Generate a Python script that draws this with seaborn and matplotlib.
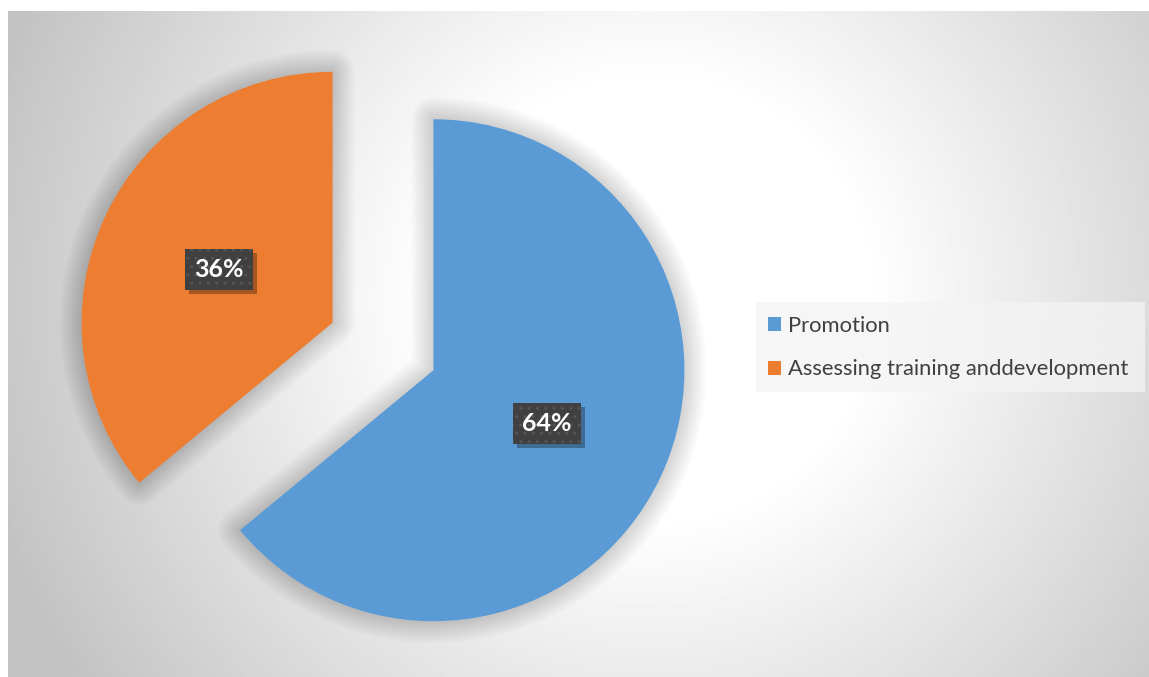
import numpy as np
import matplotlib
matplotlib.use("Agg")
import matplotlib.pyplot as plt
import matplotlib.patches as mpatches
import seaborn as sns

# Data
categories = ["Promotion", "Assessing training anddevelopment"]
shares = [64, 36]
colors = ["#5B9BD5", "#ED7D31"]

sns.set_theme(style="white")
plt.rcParams["font.family"] = ["Lato", "DejaVu Sans"]

W, H = 1149, 677
fig = plt.figure(figsize=(W / 100, H / 100), dpi=100)
fig.patch.set_facecolor("white")

# Chart area with a soft radial gradient
bg = fig.add_axes([8 / W, 0, 1 - 8 / W, (H - 11) / H])
bg.set_axis_off()
xs = np.linspace(8, W, 600)
ys = np.linspace(11, H, 360)
X, Y = np.meshgrid(xs, ys)
d = np.hypot(X - 650, Y - 300)
t = np.clip((d - 220) / 460, 0, 1)
shade = 1.0 - t * (1.0 - 196 / 255)
bg.imshow(shade, cmap="gray", vmin=0, vmax=1, extent=[8, W, H, 11],
          aspect="auto", interpolation="bilinear")
bg.set_xlim(8, W)
bg.set_ylim(H, 11)

# Legend panel (drawn on the background axes)
bg.add_patch(mpatches.Rectangle((756, 302), 389, 90, facecolor="#F4F4F4",
                                alpha=0.75, edgecolor="none", zorder=2))

# Pie axes: one data unit equals the pie radius (251 px)
R = 251.0
cx, cy = 383.0, H - 346.5
ax = fig.add_axes([0, 0, 1, 1])
ax.set_axis_off()
ax.patch.set_alpha(0)

wedges, texts, autotexts = ax.pie(
    shares,
    colors=colors,
    startangle=90,
    counterclock=False,
    explode=[0.222, 0.222],
    autopct="%1.0f%%",
    pctdistance=0.5,
    radius=1.0,
    wedgeprops=dict(linewidth=0, zorder=3),
)
ax.set_xlim(-cx / R, (W - cx) / R)
ax.set_ylim(-cy / R, (H - cy) / R)
ax.set_aspect("auto")

# Soft glow shadow behind each slice
for w in wedges:
    for lw in np.linspace(3, 32, 14):
        sh = mpatches.Wedge(w.center, w.r, w.theta1, w.theta2,
                            facecolor="none", edgecolor="black",
                            linewidth=lw, alpha=0.010, joinstyle="round",
                            zorder=1)
        ax.add_patch(sh)

# Percentage labels in dark dotted boxes
for at in autotexts:
    at.set_color("white")
    at.set_fontsize(18)
    at.set_fontweight("bold")
    at.set_zorder(6)
    at.set_bbox(dict(boxstyle="square,pad=0.36", facecolor="#404040",
                     edgecolor="#555555", linewidth=0, hatch=".."))

# Drop shadow under each label box, placed inside the pie axes
fig.canvas.draw()
inv = ax.transData.inverted()
for at in autotexts:
    bb = at.get_bbox_patch().get_window_extent()
    (x0, y0), (x1, y1) = inv.transform([(bb.x0 + 4, bb.y0 - 4),
                                        (bb.x1 + 4, bb.y1 - 4)])
    ax.add_patch(mpatches.Rectangle((x0, y0), x1 - x0, y1 - y0,
                                    facecolor="black", alpha=0.30,
                                    edgecolor="none", zorder=5))

handles = [mpatches.Patch(facecolor=c, edgecolor="none") for c in colors]
leg = fig.legend(handles, categories, loc="center left",
                 bbox_to_anchor=(768 / W, (H - 347.5) / H),
                 frameon=False, fontsize=15.8, labelcolor="#404040",
                 handlelength=0.6, handleheight=0.6, handletextpad=0.33,
                 labelspacing=1.08, borderpad=0, borderaxespad=0)

fig.savefig("out.png", dpi=100)
